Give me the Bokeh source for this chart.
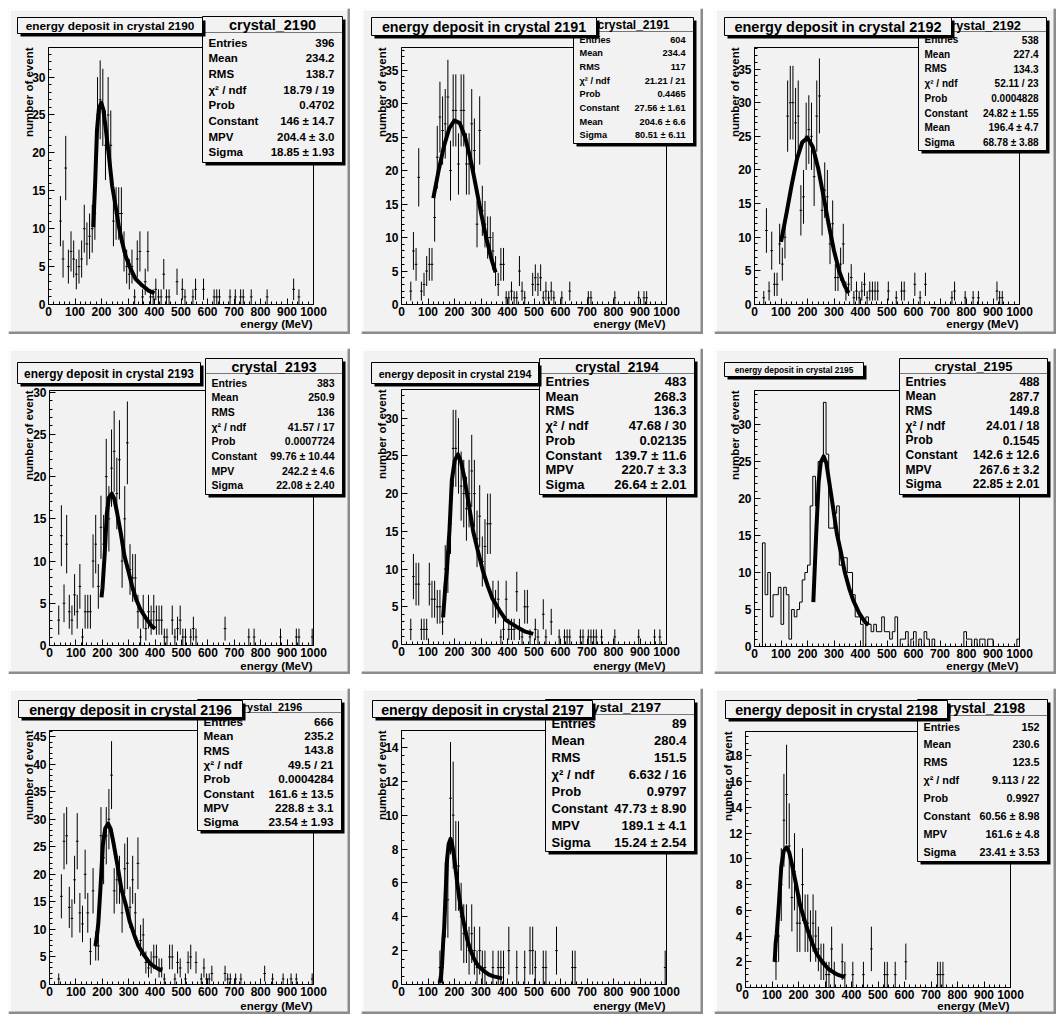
import math
from bokeh.plotting import figure
from bokeh.models import Range1d, SingleIntervalTicker, Label, BoxAnnotation
from bokeh.layouts import row, column
from bokeh.embed import file_html
from bokeh.resources import INLINE

FONT = "Liberation Sans"
BG = "#f2f2f2"
PAD_W, PAD_H = 342, 326

# ---------------- data (bin centre in MeV, counts) ----------------
bins_2190 = [45, 55, 65, 75, 85, 95, 105, 115, 125, 135, 145, 155, 165, 175, 185, 195, 205, 215, 225, 235,
             245, 255, 265, 275, 285, 295, 305, 315, 325, 335, 345, 355, 365, 375, 385, 395, 405, 415, 425,
             435, 445, 455, 485, 505, 515, 545, 555, 585, 625, 635, 645, 685, 705, 725, 735, 765, 825, 925, 945]
counts_2190 = [11, 6, 18, 5, 7, 6, 4, 5, 6, 10, 8, 9, 10, 12, 25, 27, 26, 21, 25, 21,
               11, 12, 12, 12, 7, 5, 4, 5, 1, 6, 7, 1, 3, 7, 1, 1, 2, 1, 1,
               4, 1, 1, 3, 2, 1, 1, 2, 2, 1, 1, 1, 1, 1, 1, 1, 1, 1, 2, 1]
fitx_2190 = [169, 176, 183, 190, 199, 207, 215, 228, 240, 253, 265, 278, 291, 310, 328, 354, 379, 400]
fity_2190 = [10.2, 16, 23, 25.8, 26.6, 25.7, 23.5, 19.6, 15.7, 13, 10.4, 8.2, 6.4, 4.7, 3.4, 2.5, 1.8, 1.5]

bins_2191 = [35, 45, 55, 65, 75, 85, 95, 105, 115, 125, 135, 145, 155, 165, 175, 185, 195, 205, 215, 225,
             235, 245, 255, 265, 275, 285, 295, 305, 315, 325, 335, 345, 355, 365, 375, 385, 395, 405, 415,
             425, 435, 445, 455, 465, 495, 505, 515, 525, 535, 545, 555, 565, 575, 605, 635, 705, 715, 805,
             895, 915, 925]
counts_2191 = [2, 8, 6, 19, 2, 3, 5, 6, 6, 13, 22, 28, 26, 27, 31, 20, 29, 29, 21, 29,
               29, 21, 21, 27, 23, 12, 26, 14, 12, 10, 10, 8, 5, 3, 6, 6, 1, 1, 2,
               1, 1, 5, 2, 1, 3, 4, 3, 4, 1, 2, 1, 2, 1, 1, 2, 1, 1, 1,
               1, 1, 1]
fitx_2191 = [120, 140, 160, 180, 200, 220, 240, 260, 280, 300, 320, 340, 355]
fity_2191 = [15.9, 20.0, 23.6, 26.3, 27.5, 27.1, 25.0, 21.8, 17.8, 13.7, 9.9, 6.7, 4.8]

bins_2192 = [35, 45, 55, 65, 75, 85, 95, 105, 115, 125, 135, 145, 155, 165, 175, 185, 195, 205, 215, 225,
             235, 245, 255, 265, 275, 285, 295, 305, 315, 325, 335, 345, 355, 365, 375, 385, 395, 405, 415,
             425, 435, 445, 455, 465, 505, 535, 555, 565, 605, 625, 645, 745, 755, 795, 825, 845, 915, 925, 935]
counts_2192 = [1, 11, 2, 8, 3, 3, 9, 6, 10, 28, 30, 30, 27, 28, 14, 16, 25, 26, 25, 19,
               28, 31, 14, 17, 16, 9, 12, 4, 4, 6, 9, 2, 3, 4, 1, 2, 1, 2, 3,
               1, 2, 2, 2, 2, 2, 1, 2, 2, 3, 1, 3, 1, 2, 1, 1, 1, 2, 1, 1]
fitx_2192 = [100, 120, 140, 160, 180, 200, 220, 240, 260, 280, 300, 320, 340, 355]
fity_2192 = [9.3, 13.4, 17.7, 21.6, 24.1, 24.8, 23.4, 20.3, 16.2, 11.9, 8.0, 4.9, 2.8, 1.7]

bins_2193 = [35, 45, 55, 65, 75, 85, 95, 105, 115, 125, 135, 145, 155, 165, 175, 185, 195, 205, 215, 225,
             235, 245, 255, 265, 275, 285, 295, 305, 315, 325, 335, 345, 355, 365, 375, 385, 395, 405, 415,
             425, 435, 445, 465, 475, 485, 495, 505, 515, 535, 545, 555, 665, 755, 775, 875, 935, 945, 995]
counts_2193 = [3, 13, 5, 12, 4, 3, 6, 4, 7, 1, 4, 4, 4, 10, 12, 7, 14, 12, 20, 15,
               21, 23, 18, 22, 10, 15, 24, 9, 8, 8, 4, 1, 4, 2, 4, 3, 4, 3, 3,
               3, 1, 1, 3, 1, 2, 3, 1, 1, 1, 2, 1, 2, 1, 1, 1, 1, 1, 1]
fitx_2193 = [197, 201, 209, 217, 225, 236, 245, 255, 270, 284, 299, 313, 328, 344, 366, 387, 400]
fity_2193 = [5.7, 6.9, 10.8, 15.6, 17.5, 18.0, 17.4, 15.9, 13.3, 10.6, 8.8, 7.0, 5.5, 4.3, 3.2, 2.3, 2.0]

bins_2194 = [35, 45, 55, 65, 75, 85, 95, 105, 115, 125, 135, 145, 155, 165, 175, 185, 195, 205, 215, 225,
             235, 245, 255, 265, 275, 285, 295, 305, 315, 325, 335, 345, 355, 365, 375, 385, 395, 405, 415,
             425, 435, 445, 455, 465, 475, 485, 505, 515, 535, 545, 565, 595, 615, 625, 635, 675, 685, 705,
             715, 725, 735, 755, 805, 895, 955, 975]
counts_2194 = [2, 9, 8, 8, 2, 2, 2, 8, 6, 6, 5, 5, 3, 10, 10, 16, 26, 26, 25, 21,
               20, 18, 20, 23, 20, 14, 17, 11, 13, 16, 16, 6, 5, 6, 1, 2, 6, 2, 2,
               2, 7, 2, 1, 5, 5, 1, 2, 1, 4, 1, 3, 1, 1, 1, 1, 1, 1, 1,
               1, 1, 1, 1, 1, 1, 1, 1]
fitx_2194 = [157, 166, 171, 181, 190, 201, 213, 224, 236, 254, 271, 289, 306, 325, 343, 370, 395, 432, 467, 497]
fity_2194 = [3.6, 8.0, 9.7, 15.1, 21.8, 24.4, 25.2, 24.3, 22.3, 18.6, 14.9, 12.3, 9.9, 7.8, 6.1, 4.5, 3.2, 2.4, 1.7, 1.4]

# crystal 2195 is drawn as a plain histogram: lower bin edge (MeV), counts
edges_2195 = [30, 40, 50, 60, 70, 80, 90, 100, 110, 120, 130, 140, 150, 160, 170, 180, 190, 200, 210, 220,
              230, 240, 250, 260, 270, 280, 290, 300, 310, 320, 330, 340, 350, 360, 370, 380, 390, 400, 420,
              430, 440, 450, 460, 470, 480, 490, 500, 510, 520, 530, 550, 560, 570, 590, 600, 620, 640, 650,
              670, 790, 800, 810, 830, 850, 860, 880, 890, 990]
counts_2195 = [14, 7, 10, 4, 7, 7, 8, 3, 8, 7, 1, 5, 4, 5, 6, 9, 10, 11, 19, 23,
               19, 25, 25, 33, 26, 16, 16, 18, 19, 11, 12, 12, 10, 10, 7, 4, 4, 3, 4,
               3, 2, 3, 2, 2, 4, 2, 2, 1, 2, 4, 1, 1, 2, 1, 2, 1, 2, 1,
               1, 2, 1, 1, 1, 1, 1, 1, 1, 1]
fitx_2195 = [222, 233, 242, 250, 261, 271, 280, 296, 311, 327, 341, 357, 373, 395, 417, 430]
fity_2195 = [6.0, 15.4, 22.2, 24.9, 25.7, 24.8, 22.7, 18.9, 15.2, 12.6, 10.0, 7.9, 6.2, 4.5, 3.3, 2.9]

bins_2196 = [35, 45, 55, 65, 75, 85, 95, 105, 115, 125, 135, 145, 155, 165, 175, 185, 195, 205, 215, 225,
             235, 245, 255, 265, 275, 285, 295, 305, 315, 325, 335, 345, 355, 365, 375, 385, 395, 405, 415,
             425, 435, 455, 465, 475, 485, 495, 515, 525, 535, 555, 575, 585, 595, 605, 615, 665, 675, 685,
             705, 725, 815, 845, 885, 915, 935, 995]
counts_2196 = [1, 16, 26, 27, 14, 12, 19, 26, 13, 11, 20, 13, 6, 17, 7, 7, 27, 23, 27, 30,
               38, 17, 19, 19, 13, 21, 22, 14, 19, 13, 22, 8, 9, 4, 3, 4, 5, 5, 3,
               3, 1, 5, 5, 1, 4, 3, 1, 4, 5, 4, 1, 3, 1, 1, 2, 2, 1, 1,
               1, 1, 2, 1, 1, 1, 1, 1]
fitx_2196 = [174, 181, 185, 193, 202, 211, 222, 232, 242, 258, 273, 290, 304, 321, 337, 360, 383, 416, 427]
fity_2196 = [7.0, 9.3, 11.2, 17.5, 25.3, 28.3, 29.2, 28.2, 25.8, 21.5, 17.2, 14.3, 11.4, 9.0, 7.0, 5.2, 3.7, 2.7, 2.5]

bins_2197 = [145, 155, 165, 175, 185, 195, 205, 215, 225, 235, 245, 255, 265, 275, 285, 295, 305, 315,
             345, 365, 375, 385, 405, 435, 465, 485, 495, 505, 535, 545, 585, 645, 655, 995]
counts_2197 = [1, 1, 5, 5, 11, 10, 7, 7, 4, 3, 3, 2, 3, 2, 1, 2, 1, 1,
               1, 1, 1, 1, 2, 1, 1, 2, 2, 1, 1, 1, 2, 1, 1, 1]
fitx_2197 = [144, 150, 153, 158, 161, 166, 172, 178, 185, 191, 198, 208, 218, 228, 238, 249, 259, 274, 289,
             310, 330, 347, 380]
fity_2197 = [0.1, 0.6, 1.2, 2.7, 3.3, 5.2, 7.4, 8.3, 8.6, 8.3, 7.6, 6.3, 5.1, 4.2, 3.4, 2.6, 2.1, 1.5, 1.1,
             0.81, 0.58, 0.48, 0.36]

bins_2198 = [115, 125, 135, 145, 155, 165, 175, 185, 195, 205, 215, 225, 235, 245, 255, 265, 275, 285, 295,
             305, 315, 325, 335, 365, 375, 405, 445, 475, 525, 535, 565, 605, 725, 735, 745]
counts_2198 = [2, 4, 8, 13, 15, 11, 7, 9, 5, 5, 8, 5, 5, 4, 5, 4, 3, 2, 2,
               1, 1, 3, 1, 2, 1, 1, 1, 3, 1, 1, 1, 2, 1, 1, 1]
fitx_2198 = [110, 114, 118, 126, 135, 144, 155, 165, 175, 191, 206, 222, 237, 253, 269, 293, 315, 347, 375]
fity_2198 = [2.0, 3.5, 4.2, 6.5, 9.4, 10.6, 10.9, 10.5, 9.6, 8.0, 6.4, 5.3, 4.3, 3.4, 2.6, 1.9, 1.4, 1.0, 0.8]

# ---------------- statistics boxes ----------------
names_landau = ["Entries", "Mean", "RMS", "\u03c7\u00b2 / ndf", "Prob", "Constant", "MPV", "Sigma"]
names_gaus = ["Entries", "Mean", "RMS", "\u03c7\u00b2 / ndf", "Prob", "Constant", "Mean", "Sigma"]
stats_2190 = ["396", "234.2", "138.7", "18.79 / 19", "0.4702", "146 \u00b1 14.7", "204.4 \u00b1 3.0", "18.85 \u00b1 1.93"]
stats_2191 = ["604", "234.4", "117", "21.21 / 21", "0.4465", "27.56 \u00b1 1.61", "204.6 \u00b1 6.6", "80.51 \u00b1 6.11"]
stats_2192 = ["538", "227.4", "134.3", "52.11 / 23", "0.0004828", "24.82 \u00b1 1.55", "196.4 \u00b1 4.7", "68.78 \u00b1 3.88"]
stats_2193 = ["383", "250.9", "136", "41.57 / 17", "0.0007724", "99.76 \u00b1 10.44", "242.2 \u00b1 4.6", "22.08 \u00b1 2.40"]
stats_2194 = ["483", "268.3", "136.3", "47.68 / 30", "0.02135", "139.7 \u00b1 11.6", "220.7 \u00b1 3.3", "26.64 \u00b1 2.01"]
stats_2195 = ["488", "287.7", "149.8", "24.01 / 18", "0.1545", "142.6 \u00b1 12.6", "267.6 \u00b1 3.2", "22.85 \u00b1 2.01"]
stats_2196 = ["666", "235.2", "143.8", "49.5 / 21", "0.0004284", "161.6 \u00b1 13.5", "228.8 \u00b1 3.1", "23.54 \u00b1 1.93"]
stats_2197 = ["89", "280.4", "151.5", "6.632 / 16", "0.9797", "47.73 \u00b1 8.90", "189.1 \u00b1 4.1", "15.24 \u00b1 2.54"]
stats_2198 = ["152", "230.6", "123.5", "9.113 / 22", "0.9927", "60.56 \u00b1 8.98", "161.6 \u00b1 4.8", "23.41 \u00b1 3.53"]

panels = [
    dict(id="2190", bins=bins_2190, counts=counts_2190, fx=fitx_2190, fy=fity_2190, names=names_landau, stats=stats_2190,
         ymax=33.9, ytick=5, yminor=5, brd=(40, 37, 39, 30), tbox=(9, 9, 194, 25), tsize=11.8,
         sbox=(194, 8, 334, 154), hsize=14.5, sep=24, row0=34, rstep=15.7, rsize=11.5, xt_y=315, yt_x=20),
    dict(id="2191", bins=bins_2191, counts=counts_2191, fx=fitx_2191, fy=fity_2191, names=names_gaus, stats=stats_2191,
         ymax=38.4, ytick=5, yminor=5, brd=(40, 37, 39, 30), tbox=(10, 9, 235, 27), tsize=14.3,
         sbox=(212, 9, 332, 135), hsize=12, sep=23, row0=31, rstep=13.7, rsize=9.2, xt_y=315, yt_x=20),
    dict(id="2192", bins=bins_2192, counts=counts_2192, fx=fitx_2192, fy=fity_2192, names=names_gaus, stats=stats_2192,
         ymax=38.2, ytick=5, yminor=5, brd=(40, 37, 39, 30), tbox=(10, 9, 237, 27), tsize=14.5,
         sbox=(204, 9, 332, 142), hsize=12.8, sep=23, row0=31, rstep=14.7, rsize=10, xt_y=315, yt_x=20),
    dict(id="2193", bins=bins_2193, counts=counts_2193, fx=fitx_2193, fy=fity_2193, names=names_landau, stats=stats_2193,
         ymax=30.2, ytick=5, yminor=5, brd=(41, 37, 42, 29), tbox=(9, 14, 192, 35), tsize=11.9,
         sbox=(197, 10, 334, 146), hsize=14.2, sep=25, row0=34, rstep=14.7, rsize=10.5, xt_y=317, yt_x=20),
    dict(id="2194", bins=bins_2194, counts=counts_2194, fx=fitx_2194, fy=fity_2194, names=names_landau, stats=stats_2194,
         ymax=33.8, ytick=5, yminor=5, brd=(40, 37, 41, 30), tbox=(10, 14, 177, 35), tsize=10.7,
         sbox=(178, 10, 333, 146), hsize=13.9, sep=25, row0=33, rstep=14.7, rsize=13, xt_y=317, yt_x=20),
    dict(id="2195", bins=edges_2195, counts=counts_2195, fx=fitx_2195, fy=fity_2195, names=names_landau, stats=stats_2195,
         ymax=34.6, ytick=5, yminor=5, brd=(40, 37, 42, 28), tbox=(10, 14, 149, 28), tsize=8.3,
         sbox=(185, 10, 333, 146), hsize=13, sep=25, row0=33, rstep=14.7, rsize=12, xt_y=317, yt_x=20, hist=True),
    dict(id="2196", bins=bins_2196, counts=counts_2196, fx=fitx_2196, fy=fity_2196, names=names_landau, stats=stats_2196,
         ymax=46.1, ytick=5, yminor=5, brd=(41, 37, 42, 30), tbox=(10, 12, 234, 29), tsize=14.2,
         sbox=(189, 11, 333, 142), hsize=10.9, sep=24, row0=33, rstep=14.3, rsize=11.7, xt_y=317, yt_x=20),
    dict(id="2197", bins=bins_2197, counts=counts_2197, fx=fitx_2197, fy=fity_2197, names=names_landau, stats=stats_2197,
         ymax=15.0, ytick=2, yminor=4, brd=(40, 37, 42, 30), tbox=(11, 12, 231, 29), tsize=14.2,
         sbox=(184, 11, 333, 163), hsize=13.7, sep=26, row0=35, rstep=17, rsize=13, xt_y=317, yt_x=20),
    dict(id="2198", bins=bins_2198, counts=counts_2198, fx=fitx_2198, fy=fity_2198, names=names_landau, stats=stats_2198,
         ymax=19.9, ytick=2, yminor=4, brd=(31, 46, 43, 27), tbox=(11, 12, 233, 30), tsize=14.2,
         sbox=(203, 11, 333, 173), hsize=14.2, sep=27, row0=38, rstep=17.9, rsize=10.8, xt_y=317, yt_x=13),
]

SCREEN = dict(left_units="screen", right_units="screen", top_units="screen", bottom_units="screen")


def make_panel(c):
    L, R, T, B = c["brd"]
    fw = PAD_W - L - R
    fh = PAD_H - T - B
    ymax = c["ymax"]
    kx = fw / 1000.0
    ky = fh / ymax
    # the plotting frame covers the whole pad; the histogram area is the sub-box (0..1000, 0..ymax)
    p = figure(width=PAD_W, height=PAD_H,
               x_range=Range1d(-L / kx, 1000 + R / kx), y_range=Range1d(-B / ky, ymax + T / ky),
               output_backend="svg", toolbar_location=None,
               min_border_left=0, min_border_right=0, min_border_top=0, min_border_bottom=0,
               background_fill_color=BG, border_fill_color=BG, outline_line_color=None)
    p.xgrid.visible = False
    p.ygrid.visible = False
    p.xaxis.fixed_location = 0
    p.yaxis.fixed_location = 0
    p.xaxis.bounds = (0, 1000)
    p.yaxis.bounds = (0, ymax)
    p.xaxis.ticker = SingleIntervalTicker(interval=100, num_minor_ticks=5)
    p.yaxis.ticker = SingleIntervalTicker(interval=c["ytick"], num_minor_ticks=c["yminor"])
    for ax in (p.xaxis, p.yaxis):
        ax.major_tick_in = 6
        ax.major_tick_out = 0
        ax.minor_tick_in = 3
        ax.minor_tick_out = 0
        ax.axis_line_color = "black"
        ax.major_tick_line_color = "black"
        ax.minor_tick_line_color = "black"
        ax.major_label_text_font = FONT
        ax.major_label_text_font_style = "bold"
        ax.major_label_text_font_size = "12px"
        ax.major_label_text_color = "black"
    p.xaxis.major_label_standoff = 2
    p.yaxis.major_label_standoff = 3

    def fx(px):
        return px

    def fy(py):
        return PAD_H - py

    # histogram frame
    p.add_layout(BoxAnnotation(left=0, right=1000, bottom=0, top=ymax, fill_alpha=0,
                               line_color="black", line_width=1, line_alpha=1, level="underlay"))

    # data
    if c.get("hist"):
        full = [0] * 100
        for e, n in zip(c["bins"], c["counts"]):
            full[int(e // 10)] = n
        xs = [10 * i for i in range(101)]
        ys = full + [0]
        p.step(xs, ys, mode="after", line_color="black", line_width=1)
    else:
        b = c["bins"]
        n = c["counts"]
        err = [math.sqrt(v) for v in n]
        p.segment(x0=b, y0=[v - e for v, e in zip(n, err)], x1=b, y1=[v + e for v, e in zip(n, err)],
                  line_color="black", line_width=1)
        p.segment(x0=[x - 5 for x in b], y0=n, x1=[x + 5 for x in b], y1=n, line_color="black", line_width=1)
    p.line(c["fx"], c["fy"], line_color="black", line_width=4, line_join="round")

    def box(x0, y0, x1, y1, shadow=True):
        if shadow:
            p.add_layout(BoxAnnotation(left=fx(x0) + 3, right=fx(x1) + 3, top=fy(y0) - 3, bottom=fy(y1) - 3,
                                       fill_color="black", fill_alpha=1, line_alpha=0, **SCREEN))
        p.add_layout(BoxAnnotation(left=fx(x0), right=fx(x1), top=fy(y0), bottom=fy(y1),
                                   fill_color=BG, fill_alpha=1, line_color="black", line_width=1,
                                   line_alpha=1, **SCREEN))

    def lab(x, y, text, size, align="left", angle=0.0):
        p.add_layout(Label(x=fx(x), y=fy(y), x_units="screen", y_units="screen", text=text,
                           text_font=FONT, text_font_style="bold", text_font_size=f"{size}px",
                           text_align=align, text_baseline="middle", angle=angle, text_color="black"))

    # pad bevel
    for (x0, y0, x1, y1, col) in [(0, 0, PAD_W, 2, "#ffffff"), (0, 0, 2, PAD_H, "#ffffff"),
                                   (PAD_W - 3, 0, PAD_W, PAD_H, "#8c8c8c"), (0, PAD_H - 3, PAD_W, PAD_H, "#8c8c8c")]:
        p.add_layout(BoxAnnotation(left=fx(x0), right=fx(x1), top=fy(y0), bottom=fy(y1),
                                   fill_color=col, fill_alpha=1, line_alpha=0, **SCREEN))

    # axis titles
    lab(PAD_W - R - 1, c["xt_y"], "energy (MeV)", 11.5, align="right")
    lab(c["yt_x"], T, "number of event", 11.5, align="right", angle=math.pi / 2)

    # statistics box
    sx0, sy0, sx1, sy1 = c["sbox"]
    box(sx0, sy0, sx1, sy1)
    p.add_layout(BoxAnnotation(left=fx(sx0), right=fx(sx1), top=fy(c["sep"]), bottom=fy(c["sep"]),
                               fill_alpha=0, line_color="black", line_width=1, **SCREEN))
    lab((sx0 + sx1) / 2, (sy0 + c["sep"]) / 2 + 0.5, "crystal_" + c["id"], c["hsize"], align="center")
    for i, (nm, val) in enumerate(zip(c["names"], c["stats"])):
        yy = c["row0"] + i * c["rstep"]
        lab(sx0 + 6, yy, nm, c["rsize"], align="left")
        lab(sx1 - 8, yy, val, c["rsize"], align="right")

    # title box
    tx0, ty0, tx1, ty1 = c["tbox"]
    box(tx0, ty0, tx1, ty1)
    lab((tx0 + tx1) / 2, (ty0 + ty1) / 2 + 0.5, "energy deposit in crystal " + c["id"], c["tsize"], align="center")
    return p


figs = [make_panel(c) for c in panels]
layout = column(row(figs[0], figs[1], figs[2], spacing=11),
                row(figs[3], figs[4], figs[5], spacing=11),
                row(figs[6], figs[7], figs[8], spacing=11),
                spacing=14, margin=(8, 0, 0, 8))

open("out.html", "w").write(file_html(layout, INLINE, title="energy deposit"))
